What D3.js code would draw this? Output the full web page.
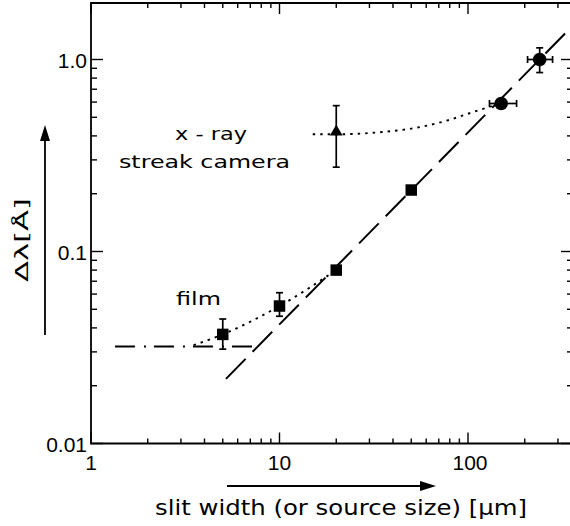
<!DOCTYPE html>
<html>
<head>
<meta charset="utf-8">
<script src="https://cdn.jsdelivr.net/npm/d3@7"></script>
<style>
  html, body { margin: 0; padding: 0; background: #fff; }
  svg { display: block; }
  text { fill: #000; }
  .tick-label { font-family: "Liberation Sans", Arial, sans-serif; }
  .label { font-family: "DejaVu Sans", sans-serif; }
</style>
</head>
<body>
<svg id="chart" width="570" height="526"></svg>
<script>
// ---------------- data ----------------
const xTickLabels = ["1", "10", "100"];
const xTickValues = [1, 10, 100];
const yTickLabels = ["0.01", "0.1", "1.0"];
const yTickValues = [0.01, 0.1, 1.0];

// film (squares)
const filmX     = [5, 10, 20, 50];
const filmY     = [0.037, 0.052, 0.080, 0.209];
const filmErrLo = [0.031, 0.046, null, null];
const filmErrHi = [0.0445, 0.061, null, null];

// x-ray streak camera (triangle)
const streakX     = [20];
const streakY     = [0.42];
const streakErrLo = [0.275];
const streakErrHi = [0.575];

// circles
const circX      = [150, 240];
const circY      = [0.59, 1.0];
const circXErrLo = [130, 207];
const circXErrHi = [181, 281];
const circYErrLo = [null, 0.855];
const circYErrHi = [null, 1.15];

// dotted curve through streak camera point
const streakCurveX = [15, 20.5, 34, 51, 77, 102, 128, 150];
const streakCurveY = [0.408, 0.408, 0.418, 0.438, 0.48, 0.525, 0.564, 0.59];

// dotted curve through film points
const filmCurveX = [3.5, 5, 10, 20];
const filmCurveY = [0.0325, 0.037, 0.052, 0.080];

// dash-dot film limit
const limitX = [1.34, 7.4];
const limitY = [0.032, 0.032];

// long-dashed proportional line
const propX = [5.2, 350];
const propY = [0.0217, 1.46];

// ---------------- layout ----------------
const svg = d3.select("#chart");
const L = 91, T = 3, R = 571, B = 443.5;
const x = d3.scaleLog().domain([1, 350]).range([L, L + 188.5 * Math.log10(350)]);
const y = d3.scaleLog().domain([0.01, 1.97]).range([B, B - 192 * Math.log10(197)]);

svg.append("defs").append("clipPath").attr("id", "clip")
  .append("rect").attr("x", L).attr("y", T).attr("width", R - L).attr("height", B - T);

const sw = 1.8;

// spines
svg.append("path")
  .attr("d", `M${R},${T}H${L}V${B}H${R}`)
  .attr("fill", "none").attr("stroke", "#000").attr("stroke-width", sw);

// ticks
function minorVals(lo, hi) {
  const out = [];
  for (let d = lo; d < hi; d *= 10)
    for (let k = 1; k <= 9; k++) out.push(k * d);
  return out;
}
const xAll = minorVals(1, 1000).filter(v => v >= 1 && v <= 350);
const yAll = minorVals(0.01, 10).filter(v => v >= 0.01 && v <= 1.97);
const isMajor = v => Math.abs(Math.log10(v) - Math.round(Math.log10(v))) < 1e-9;

const ticks = svg.append("g").attr("stroke", "#000").attr("stroke-width", 1.4);
xAll.forEach(v => {
  const len = isMajor(v) ? 11 : 5;
  ticks.append("line").attr("x1", x(v)).attr("x2", x(v)).attr("y1", B).attr("y2", B - len);
  ticks.append("line").attr("x1", x(v)).attr("x2", x(v)).attr("y1", T).attr("y2", T + len);
});
yAll.forEach(v => {
  const len = isMajor(v) ? 12 : 6;
  ticks.append("line").attr("x1", L).attr("x2", L + len).attr("y1", y(v)).attr("y2", y(v));
  ticks.append("line").attr("x1", R).attr("x2", R - len + 2).attr("y1", y(v)).attr("y2", y(v));
});

// tick labels
svg.append("g").selectAll("text").data(xTickValues).join("text")
  .attr("class", "tick-label")
  .attr("x", (d, i) => x(d) + (i === 2 ? 2 : 0))
  .attr("y", 470)
  .attr("text-anchor", "middle")
  .attr("font-size", 21)
  .text((d, i) => xTickLabels[i]);

svg.append("g").selectAll("text").data(yTickValues).join("text")
  .attr("class", "tick-label")
  .attr("x", 87)
  .attr("y", d => y(d) + 8)
  .attr("text-anchor", "end")
  .attr("font-size", 21)
  .text((d, i) => yTickLabels[i]);

// ---------------- lines ----------------
const plot = svg.append("g").attr("clip-path", "url(#clip)");

const lineGen = d3.line().x(d => x(d[0])).y(d => y(d[1]));
const curveGen = d3.line().x(d => x(d[0])).y(d => y(d[1])).curve(d3.curveMonotoneX);

plot.append("path")
  .datum(propX.map((v, i) => [v, propY[i]]))
  .attr("d", lineGen)
  .attr("fill", "none").attr("stroke", "#000").attr("stroke-width", 2)
  .attr("stroke-dasharray", "28,10");

plot.append("path")
  .datum(limitX.map((v, i) => [v, limitY[i]]))
  .attr("d", lineGen)
  .attr("fill", "none").attr("stroke", "#000").attr("stroke-width", 2)
  .attr("stroke-dasharray", "20,9,2,8");

plot.append("path")
  .datum(streakCurveX.map((v, i) => [v, streakCurveY[i]]))
  .attr("d", curveGen)
  .attr("fill", "none").attr("stroke", "#000").attr("stroke-width", 1.9)
  .attr("stroke-dasharray", "2.5,5");

plot.append("path")
  .datum(filmCurveX.map((v, i) => [v, filmCurveY[i]]))
  .attr("d", curveGen)
  .attr("fill", "none").attr("stroke", "#000").attr("stroke-width", 1.9)
  .attr("stroke-dasharray", "2.5,5");

// ---------------- error bars ----------------
const eb = svg.append("g").attr("stroke", "#000").attr("stroke-width", 1.7);
const cap = 3.5;
function vErr(xv, lo, hi) {
  if (lo == null) return;
  const px = x(xv);
  eb.append("line").attr("x1", px).attr("x2", px).attr("y1", y(lo)).attr("y2", y(hi));
  eb.append("line").attr("x1", px - cap).attr("x2", px + cap).attr("y1", y(lo)).attr("y2", y(lo));
  eb.append("line").attr("x1", px - cap).attr("x2", px + cap).attr("y1", y(hi)).attr("y2", y(hi));
}
function hErr(yv, lo, hi) {
  if (lo == null) return;
  const py = y(yv);
  eb.append("line").attr("x1", x(lo)).attr("x2", x(hi)).attr("y1", py).attr("y2", py);
  eb.append("line").attr("x1", x(lo)).attr("x2", x(lo)).attr("y1", py - cap).attr("y2", py + cap);
  eb.append("line").attr("x1", x(hi)).attr("x2", x(hi)).attr("y1", py - cap).attr("y2", py + cap);
}
filmX.forEach((v, i) => vErr(v, filmErrLo[i], filmErrHi[i]));
streakX.forEach((v, i) => vErr(v, streakErrLo[i], streakErrHi[i]));
circX.forEach((v, i) => {
  hErr(circY[i], circXErrLo[i], circXErrHi[i]);
  vErr(v, circYErrLo[i], circYErrHi[i]);
});

// ---------------- markers ----------------
svg.append("g").selectAll("path").data(filmX).join("path")
  .attr("transform", (d, i) => `translate(${x(d)},${y(filmY[i])})`)
  .attr("d", d3.symbol(d3.symbolSquare, 132)());

svg.append("g").selectAll("path").data(streakX).join("path")
  .attr("transform", (d, i) => `translate(${x(d)},${y(streakY[i])})`)
  .attr("d", d3.symbol(d3.symbolTriangle, 70)());

svg.append("g").selectAll("circle").data(circX).join("circle")
  .attr("cx", d => x(d))
  .attr("cy", (d, i) => y(circY[i]))
  .attr("r", 6.8);

// ---------------- annotations ----------------
function label(txt, xp, yp, size, len) {
  return svg.append("text").attr("class", "label")
    .attr("x", xp).attr("y", yp).attr("font-size", size)
    .attr("textLength", len).attr("lengthAdjust", "spacingAndGlyphs")
    .text(txt);
}
label("x - ray", 175, 140, 18, 72);
label("streak camera", 119, 168, 18, 171);
label("film", 176, 305, 18, 45);

// axis titles
label("slit width (or source size) [µm]", 155, 515, 20.5, 372);

svg.append("text").attr("class", "label")
  .attr("transform", "translate(28,282) rotate(-90)")
  .attr("font-size", 18)
  .attr("textLength", 84).attr("lengthAdjust", "spacingAndGlyphs")
  .text("Δλ[Å]");

// axis arrows
const arr = svg.append("g").attr("stroke", "#000").attr("stroke-width", 1.8);
arr.append("line").attr("x1", 227).attr("x2", 424).attr("y1", 486).attr("y2", 486);
svg.append("path").attr("d", "M436,486 L420,481 L420,491 Z").attr("fill", "#000");
arr.append("line").attr("x1", 45).attr("x2", 45).attr("y1", 335).attr("y2", 138);
svg.append("path").attr("d", "M45,125 L40,141 L50,141 Z").attr("fill", "#000");
</script>
</body>
</html>
